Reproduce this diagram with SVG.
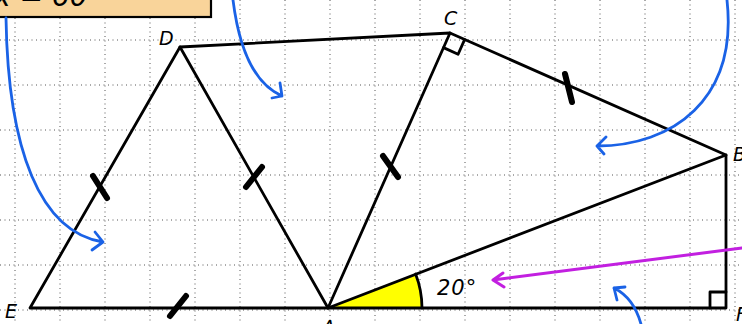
<svg xmlns="http://www.w3.org/2000/svg" width="742" height="324" viewBox="0 0 742 324">
<defs>
<style>
.grid line{stroke:#555;stroke-width:1;stroke-dasharray:1 3.5}
.edge{stroke:#000;stroke-width:2.8;fill:none;stroke-linecap:round;stroke-linejoin:round}
.tick{stroke:#000;stroke-width:6;stroke-linecap:round}
.blue{stroke:#1a62e6;stroke-width:2.8;fill:none;stroke-linecap:round;stroke-linejoin:round}
.mag{stroke:#c21fe0;stroke-width:3;fill:none;stroke-linecap:round;stroke-linejoin:round}
.lbl{font-family:"DejaVu Sans",sans-serif;font-style:italic;font-size:19px;fill:#000}
</style>
</defs>
<rect width="742" height="324" fill="#fff"/>
<g class="grid">
<line x1="15" y1="0" x2="15" y2="324"/><line x1="60" y1="0" x2="60" y2="324"/><line x1="105" y1="0" x2="105" y2="324"/><line x1="150" y1="0" x2="150" y2="324"/><line x1="195" y1="0" x2="195" y2="324"/><line x1="240" y1="0" x2="240" y2="324"/><line x1="285" y1="0" x2="285" y2="324"/><line x1="330" y1="0" x2="330" y2="324"/><line x1="375" y1="0" x2="375" y2="324"/><line x1="420" y1="0" x2="420" y2="324"/><line x1="465" y1="0" x2="465" y2="324"/><line x1="510" y1="0" x2="510" y2="324"/><line x1="555" y1="0" x2="555" y2="324"/><line x1="600" y1="0" x2="600" y2="324"/><line x1="645" y1="0" x2="645" y2="324"/><line x1="690" y1="0" x2="690" y2="324"/><line x1="735" y1="0" x2="735" y2="324"/>
<line x1="0" y1="40" x2="742" y2="40"/><line x1="0" y1="85" x2="742" y2="85"/><line x1="0" y1="130" x2="742" y2="130"/><line x1="0" y1="175" x2="742" y2="175"/><line x1="0" y1="220" x2="742" y2="220"/><line x1="0" y1="265" x2="742" y2="265"/><line x1="0" y1="310" x2="742" y2="310"/>
</g>
<g id="box">
<rect x="-3" y="-3" width="214" height="20" fill="#f9d49a" stroke="#000" stroke-width="2.2"/>
<text x="-6" y="6" font-family="DejaVu Sans,sans-serif" font-style="italic" font-size="28">x = 60</text>
</g>
<g id="angle-A">
<path d="M328 308 L422 308 A94 94 0 0 0 415.6 274 Z" fill="#ffff00"/>
<path d="M422 308 A94 94 0 0 0 415.6 274" class="edge" stroke-width="2.2"/>
</g>
<g id="edges">
<path class="edge" d="M30 308 L726 308 L726 155 L450 33 L180 47 L30 308"/>
<path class="edge" d="M180 47 L328 308 L450 33"/>
<path class="edge" d="M328 308 L726 155"/>
<path class="edge" stroke-width="2.2" d="M443.5 47.6 L458.1 54.2 L464.6 39.6"/>
<path class="edge" stroke-width="2.2" d="M726 292 L710 292 L710 308"/>
</g>
<g id="ticks">
<line class="tick" x1="93" y1="176" x2="107" y2="198"/>
<line class="tick" x1="246" y1="187" x2="262" y2="167"/>
<line class="tick" x1="383" y1="156" x2="398" y2="177"/>
<line class="tick" x1="565" y1="74" x2="572" y2="102"/>
<line class="tick" x1="170" y1="316" x2="186" y2="296"/>
</g>
<g id="labels">
<text class="lbl" x="159" y="45">D</text>
<text class="lbl" x="444" y="25">C</text>
<text class="lbl" x="5" y="318">E</text>
<text class="lbl" x="322" y="334">A</text>
<text class="lbl" x="733" y="161">B</text>
<text class="lbl" x="736" y="321">F</text>
<text x="437" y="295" font-family="DejaVu Sans,sans-serif" font-style="italic" font-size="21" letter-spacing="1">20°</text>
</g>
<g id="connectors">
<path class="blue" d="M6 18 C8 150 40 232 103 242 M95 232 L103 242 L92 250"/>
<path class="blue" d="M233 0 C238 40 250 82 282 96 M280 83 L282 96 L272 98"/>
<path class="blue" d="M727 0 C738 100 672 146 597 146 M606 137 L597 146 L604 154"/>
<path class="blue" d="M641 324 C636 306 628 295 614 288 M617 300 L614 288 L625 287"/>
<path class="mag" d="M742 248 L493 280 M503 273 L493 280 L504 287"/>
</g>
</svg>
